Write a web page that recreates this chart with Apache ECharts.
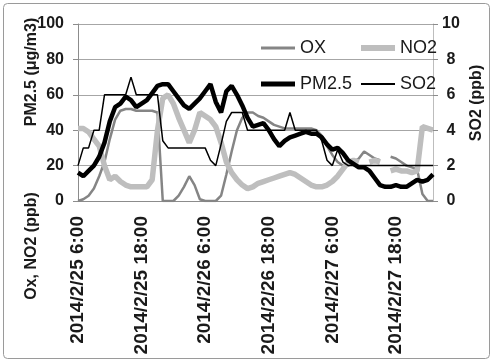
<!DOCTYPE html>
<html>
<head>
<meta charset="utf-8">
<script src="https://cdn.jsdelivr.net/npm/echarts@6/dist/echarts.min.js"></script>
<style>
  html, body { margin: 0; padding: 0; background: #fff; }
  #chart { width: 493px; height: 363px; }
</style>
</head>
<body>
<div id="chart"></div>
<script>
// hourly readings from 2014/2/25 6:00 on
var startTime = new Date(2014, 1, 25, 6)
var hourCount = 68
var categories = []
for (var h = 0; h < hourCount; h++) {
  var d = new Date(startTime.getTime() + h * 3600000)
  categories.push(d.getFullYear() + '/' + (d.getMonth() + 1) + '/' + d.getDate() + ' ' + d.getHours() + ':00')
}

// left axis: ppb / ug/m3
var oxData = [0, 1, 3, 7, 14, 22, 35, 46, 51, 52,
  52, 51, 51, 51, 51, 50, 0, 0, 0, 3,
  8, 14, 9, 1, 0, 0, 0, 3, 15, 28,
  40, 47, 50, 50, 48, 47, 45, 43, 42, 41,
  41, 41, 41, 41, 41, 40, 37, 31, 26, 22,
  20, 20, 22, 24, 28, 26, 24, 23, null, 25,
  24, 22, 20, 19, 18, 4, 0, 0]
var no2Data = [41, 41, 39, 35, 31, 20, 12, 14, 11, 9,
  8, 8, 8, 8, 12, 40, 58, 60, 55, 47,
  40, 33, 40, 50, 48, 46, 42, 33, 22, 16,
  12, 9, 7, 8, 10, 11, 12, 13, 14, 15,
  16, 15, 13, 11, 9, 8, 8, 9, 11, 14,
  18, 22, 23, 22, null, 22, 23, 22, null, 17,
  18, 17, 17, 16, 17, 42, 41, 40]
var pm25Data = [16, 14, 17, 20, 25, 33, 45, 53, 55, 59,
  57, 53, 55, 57, 61, 65, 66, 66, 62, 58,
  54, 52, 55, 58, 62, 66, 56, 50, 62, 65,
  60, 54, 47, 42, 43, 44, 40, 35, 31, 34,
  36, 37, 38, 39, 38, 38, 36, 32, 29, 30,
  27, 23, 21, 19, 19, 17, 13, 9, 8, 8,
  9, 8, 8, 10, 12, 11, 12, 15]
// right axis: ppb
var so2Data = [2, 3, 3, 4, 4, 6, 6, 6, 6, 6,
  7, 6, 6, 6, 6, 6, 3.4, 3, 3, 3,
  3, 3, 3, 3, 3, 2.3, 2, 3.2, 4.5, 5,
  5, 5, 4, 4, 4, 4, 4, 4, 4, 4,
  5, 4, 4, 4, 4, 4, 3.4, 2.3, 2, 2.9,
  2.2, 2, 2, 2, 2, 2, 2, 2, 2, 2,
  2, 2, 2, 2, 2, 2, 2, 2]

var leftTicks = [0, 20, 40, 60, 80, 100]
var rightTicks = [0, 2, 4, 6, 8, 10]

var font = '"Liberation Sans", Arial, sans-serif'
var chart = echarts.init(document.getElementById('chart'))

// one legend per entry so the two columns line up like the original
function legendAt(name, left, top, thickness) {
  return {
    data: [name],
    left: left,
    top: top,
    icon: 'rect',
    itemWidth: 34,
    itemHeight: thickness,
    textStyle: {fontSize: 18, color: '#1a1a1a', fontFamily: font}
  }
}

function rotatedTitle(text, x, y) {
  return {
    type: 'text',
    x: x,
    y: y,
    rotation: Math.PI / 2,
    style: {
      text: text,
      font: 'bold 16px ' + font,
      fill: '#1a1a1a',
      align: 'center',
      verticalAlign: 'middle'
    }
  }
}

var option = {
  animation: false,
  backgroundColor: '#fff',
  grid: {left: 78, right: 60, top: 24, bottom: 162},
  legend: [
    legendAt('OX', 256, 34, 3),
    legendAt('PM2.5', 256, 70, 5),
    legendAt('NO2', 356, 34, 6),
    legendAt('SO2', 356, 70, 2)
  ],
  graphic: [
    {
      type: 'rect',
      shape: {x: 3.5, y: 3.5, width: 486, height: 355, r: 4},
      style: {fill: 'none', stroke: '#9a9a9a', lineWidth: 1}
    },
    rotatedTitle('PM2.5 (μg/m3)', 32, 72),
    rotatedTitle('Ox, NO2 (ppb)', 32, 246),
    rotatedTitle('SO2 (ppb)', 477, 103)
  ],
  xAxis: {
    type: 'category',
    data: categories,
    boundaryGap: false,
    axisLine: {lineStyle: {color: '#8c8c8c'}},
    axisTick: {show: false},
    axisLabel: {
      interval: 11,
      rotate: 90,
      margin: 15,
      fontSize: 19,
      fontWeight: 'bold',
      fontFamily: font,
      color: '#1a1a1a'
    },
    splitLine: {show: false}
  },
  yAxis: [
    {
      type: 'value',
      min: leftTicks[0],
      max: leftTicks[leftTicks.length - 1],
      interval: leftTicks[1] - leftTicks[0],
      axisLine: {show: true, lineStyle: {color: '#8c8c8c'}},
      axisTick: {show: true, length: 5, lineStyle: {color: '#8c8c8c'}},
      axisLabel: {margin: 14, fontSize: 16, fontWeight: 'bold', fontFamily: font, color: '#1a1a1a'},
      splitLine: {lineStyle: {color: '#a6a6a6'}}
    },
    {
      type: 'value',
      position: 'right',
      min: rightTicks[0],
      max: rightTicks[rightTicks.length - 1],
      interval: rightTicks[1] - rightTicks[0],
      axisLine: {show: true, lineStyle: {color: '#bdbdbd'}},
      axisTick: {show: true, length: 5, lineStyle: {color: '#8c8c8c'}},
      axisLabel: {margin: 18, align: 'center', fontSize: 16, fontWeight: 'bold', fontFamily: font, color: '#1a1a1a'},
      splitLine: {show: false}
    }
  ],
  series: [
    {
      name: 'OX',
      type: 'line',
      data: oxData,
      symbol: 'none',
      lineStyle: {width: 2.5, color: '#858585'},
      itemStyle: {color: '#858585'}
    },
    {
      name: 'NO2',
      type: 'line',
      data: no2Data,
      symbol: 'none',
      lineStyle: {width: 5.5, color: '#bebebe'},
      itemStyle: {color: '#bebebe'}
    },
    {
      name: 'PM2.5',
      type: 'line',
      data: pm25Data,
      symbol: 'none',
      lineStyle: {width: 4.5, color: '#000'},
      itemStyle: {color: '#000'}
    },
    {
      name: 'SO2',
      type: 'line',
      yAxisIndex: 1,
      data: so2Data,
      symbol: 'none',
      lineStyle: {width: 1.5, color: '#000'},
      itemStyle: {color: '#000'}
    }
  ]
}

chart.setOption(option)
</script>
</body>
</html>
